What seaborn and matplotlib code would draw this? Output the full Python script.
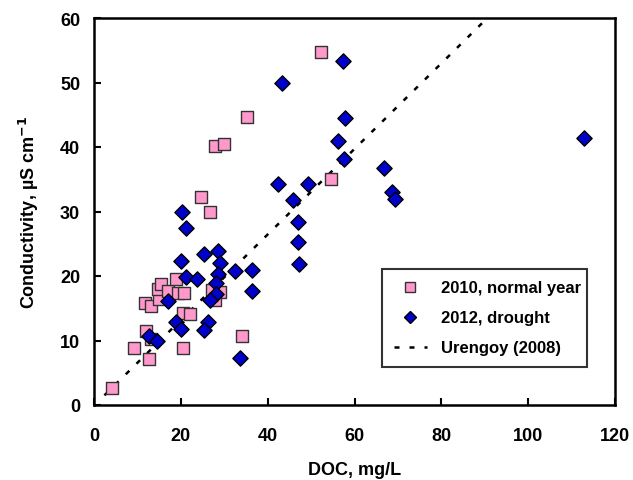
import matplotlib
matplotlib.use("Agg")
import matplotlib.pyplot as plt
import seaborn as sns
import pandas as pd
from matplotlib.lines import Line2D

# 2010, normal year (DOC mg/L, conductivity µS/cm)
doc_2010 = [4.1, 9.2, 12.7, 20.5, 12.0, 13.2, 20.5, 22.2, 11.7, 13.2, 15.0, 14.8, 15.4, 17.0,
            18.8, 19.3, 20.7, 24.7, 26.7, 27.1, 29.0, 27.9, 34.1, 27.9, 29.9, 35.2, 52.2, 54.7]
cond_2010 = [2.7, 8.9, 7.1, 8.8, 11.5, 10.2, 14.3, 14.1, 15.8, 15.4, 16.4, 18.0, 18.8, 17.7,
             19.6, 17.3, 17.3, 32.2, 29.9, 17.9, 17.5, 16.3, 10.7, 40.2, 40.5, 44.7, 54.8, 35.0]

# 2012, drought
doc_2012 = [12.6, 14.6, 17.1, 19.0, 20.0, 20.0, 21.3, 23.7, 25.4, 26.2, 25.3, 20.3, 21.2, 28.6,
            29.0, 28.6, 28.1, 28.2, 26.7, 32.4, 36.5, 36.3, 33.7, 42.4, 49.3, 45.9, 47.1, 47.1,
            47.3, 43.2, 57.3, 57.8, 56.1, 57.6, 66.8, 68.6, 69.3, 112.9]
cond_2012 = [10.7, 9.9, 16.2, 12.8, 11.8, 22.3, 19.8, 19.5, 23.4, 12.8, 11.6, 29.9, 27.5, 23.8,
             22.0, 20.3, 18.9, 17.2, 16.3, 20.8, 21.0, 17.7, 7.3, 34.3, 34.3, 31.8, 28.3, 25.3,
             21.9, 49.9, 53.3, 44.5, 40.9, 38.1, 36.7, 33.1, 31.9, 41.4]

# Urengoy (2008) relationship
ure_doc = [2.4, 90.6]
ure_cond = [1.5, 60.0]

x_ticks = [0, 20, 40, 60, 80, 100, 120]
y_ticks = [0, 10, 20, 30, 40, 50, 60]

sns.set_theme(style="white")
plt.rcParams['font.family'] = ['Liberation Sans', 'DejaVu Sans']
plt.rcParams['font.weight'] = 'bold'
for k in ['text.color', 'axes.labelcolor', 'xtick.color', 'ytick.color', 'axes.edgecolor']:
    plt.rcParams[k] = 'black'

fig = plt.figure(figsize=(6.33, 4.81), dpi=100)
ax = fig.add_axes([94/633, 75/481, (615-94)/633, (406-19)/481])

df10 = pd.DataFrame({"doc": doc_2010, "cond": cond_2010})
df12 = pd.DataFrame({"doc": doc_2012, "cond": cond_2012})
dfl = pd.DataFrame({"doc": ure_doc, "cond": ure_cond})

sns.lineplot(data=dfl, x="doc", y="cond", ax=ax, color="black", lw=1.8,
             linestyle=(0, (2, 4)), zorder=1)
sns.scatterplot(data=df10, x="doc", y="cond", ax=ax, marker="s", s=80,
                color="#FF99CC", edgecolor="#333333", linewidth=1.0, zorder=2)
sns.scatterplot(data=df12, x="doc", y="cond", ax=ax, marker="D", s=60,
                color="#0000CC", edgecolor="black", linewidth=1.0, zorder=3)

ax.set_xlim(0, 120)
ax.set_ylim(0, 60)
ax.set_xticks(x_ticks)
ax.set_yticks(y_ticks)
ax.tick_params(direction="in", length=5, width=1.5, labelsize=13,
               top=False, right=False, bottom=True, left=True, colors="black")
ax.tick_params(axis="x", pad=16)
ax.tick_params(axis="y", pad=10)
for lab in ax.get_xticklabels() + ax.get_yticklabels():
    lab.set_fontweight("bold")
for sp in ax.spines.values():
    sp.set_linewidth(1.8)
    sp.set_color("black")

ax.set_xlabel("DOC, mg/L", fontsize=13, fontweight="bold", labelpad=12)
ax.set_ylabel("Conductivity, µS cm$^{\\mathbf{-1}}$", fontsize=13, fontweight="bold", labelpad=14)

handles = [
    Line2D([], [], marker="s", linestyle="none", markersize=7, markerfacecolor="#FF99CC",
           markeredgecolor="#333333", markeredgewidth=1.0),
    Line2D([], [], marker="D", linestyle="none", markersize=6, markerfacecolor="#0000CC",
           markeredgecolor="black", markeredgewidth=1.0),
    Line2D([], [], color="black", lw=1.8, linestyle=(0, (2, 4))),
]
labels = ["2010, normal year", "2012, drought", "Urengoy (2008)"]
leg = ax.legend(handles, labels, loc="lower left",
                bbox_to_anchor=((382-94)/521, (406-368)/387, (587-382)/521, 0.26), mode="expand",
                borderaxespad=0,
                fontsize=12, frameon=True, fancybox=False, edgecolor="black",
                labelspacing=0.9, handlelength=2.0, handletextpad=0.84, borderpad=0.7)
leg.get_frame().set_linewidth(1.5)
for t in leg.get_texts():
    t.set_fontweight("bold")
    t.set_color("black")

fig.savefig("out.png", dpi=100)
